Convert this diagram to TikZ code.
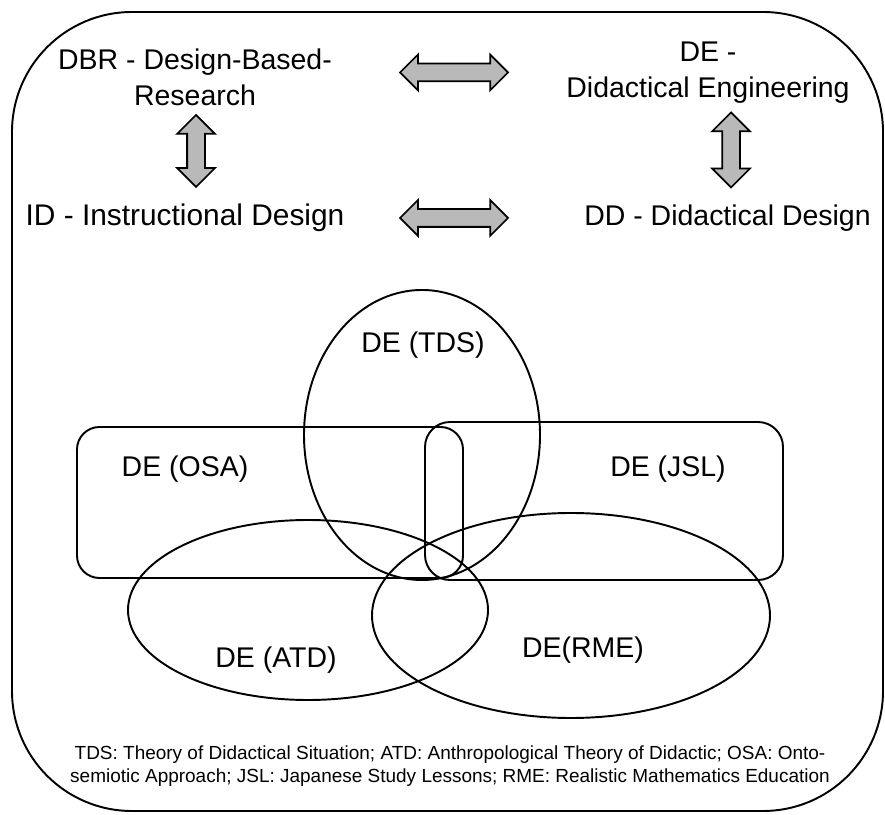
\documentclass[tikz,border=0pt]{standalone}
\usepackage{fontspec}
\setmainfont{Liberation Sans}
\usepackage{tikz}
\usetikzlibrary{shapes.arrows}

\tikzset{
  lbl/.style={font=\fontsize{16.2}{20.5}\selectfont, align=center, inner sep=0pt},
  blockarrow/.style={double arrow, draw, fill=gray!55, line width=1pt,
    inner sep=0pt, text height=0.16cm, text depth=0.16cm,
    double arrow head extend=0.18cm, minimum height=2.16cm},
}

\begin{document}
\begin{tikzpicture}
\useasboundingbox (0,0) rectangle (17.7,16.28);
\draw[line width=1.1pt, rounded corners=2.4cm] (0.24,0.06) rectangle (17.66,16.04);
% the four design approaches
\node[lbl] (dbr) at (3.9,14.74) {DBR - Design-Based-\\Research};
\node[lbl] (de) at (14.16,14.82) {DE -\\Didactical Engineering};
\node[lbl, font=\fontsize{17}{20.5}\selectfont] (id) at (3.7,11.92) {ID - Instructional Design};
\node[lbl] (dd) at (14.55,11.92) {DD - Didactical Design};
\node[blockarrow] (dbrde) at (9.08,14.83) {};
\node[blockarrow] (iddd) at (9.08,11.92) {};
\node[blockarrow, rotate=90, minimum height=1.44cm, double arrow head extend=0.2cm] (dbrid) at (3.92,13.26) {};
\node[blockarrow, rotate=90, minimum height=1.5cm, double arrow head extend=0.2cm] (dedd) at (14.62,13.28) {};
% the five sets
\draw[line width=1.1pt] (8.44,7.58) ellipse (2.36 and 2.9);
\draw[line width=1.1pt, rounded corners=0.45cm] (1.54,4.72) rectangle (9.26,7.74);
\draw[line width=1.1pt, rounded corners=0.5cm] (8.5,4.68) rectangle (15.66,7.84);
\draw[line width=1.1pt] (6.16,4.08) ellipse (3.6 and 1.8);
\draw[line width=1.1pt] (11.42,3.97) ellipse (3.98 and 2.05);
\node[lbl] (tds) at (8.46,9.38) {DE (TDS)};
\node[lbl] (osa) at (3.7,6.9) {DE (OSA)};
\node[lbl] (jsl) at (13.36,6.9) {DE (JSL)};
\node[lbl] (atd) at (5.52,3.08) {DE (ATD)};
\node[lbl] (rme) at (11.66,3.28) {DE(RME)};
\node[align=center, inner sep=0pt, font=\fontsize{10.8}{13}\selectfont] (notes) at (9.0,0.95)
  {TDS: Theory of Didactical Situation; ATD: Anthropological Theory of Didactic; OSA: Onto-\\
   semiotic Approach; JSL: Japanese Study Lessons; RME: Realistic Mathematics Education};
\end{tikzpicture}
\end{document}
